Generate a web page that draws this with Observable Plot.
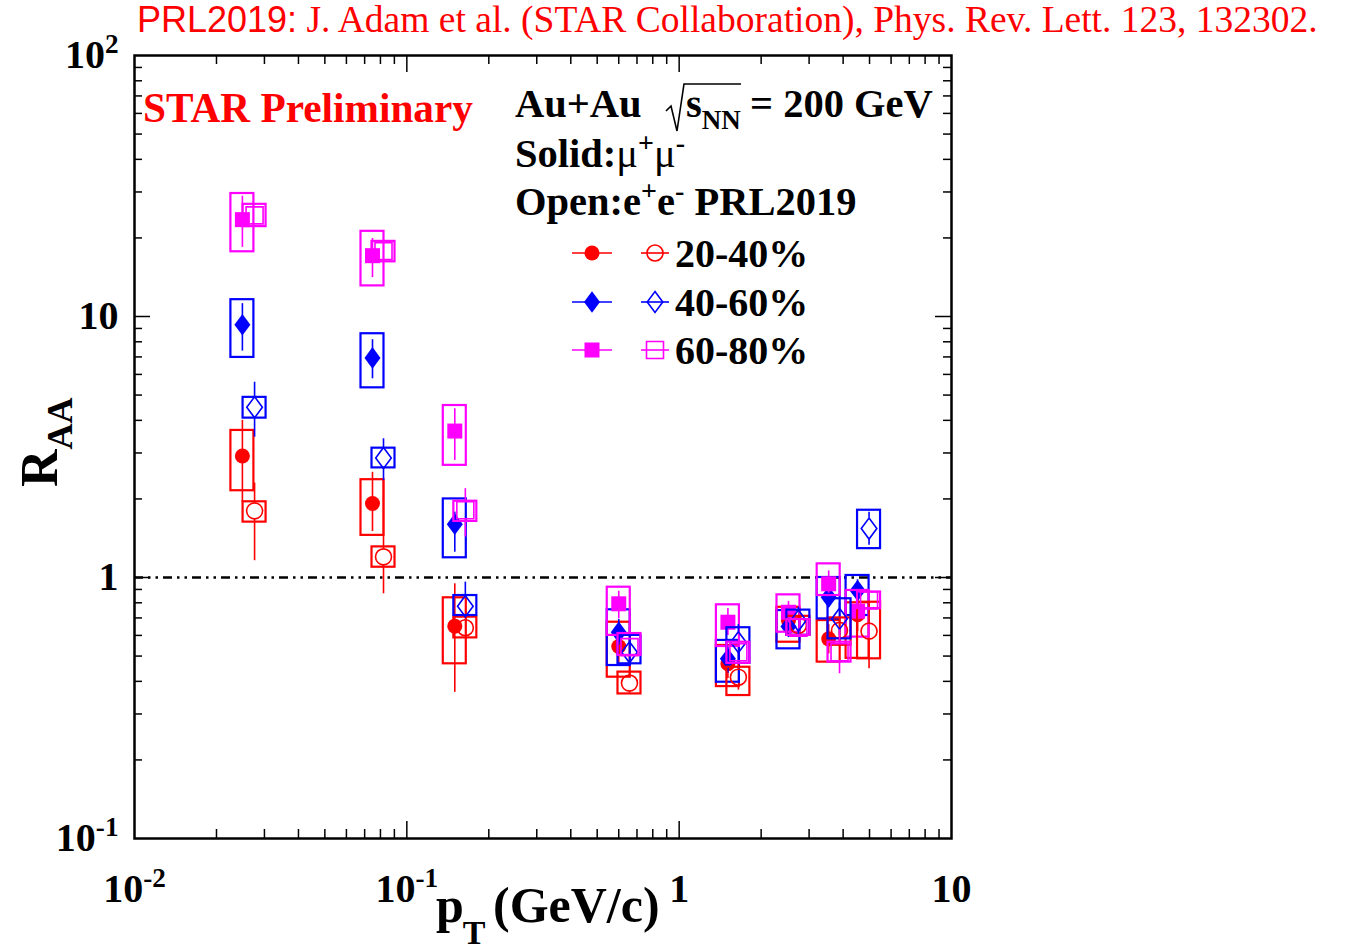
<!DOCTYPE html>
<html><head><meta charset="utf-8">
<script src="https://cdn.jsdelivr.net/npm/d3@7"></script>
<script src="https://cdn.jsdelivr.net/npm/@observablehq/plot@0.6"></script>
<style>
body{margin:0;background:#fff;}
#wrap{position:relative;width:1353px;height:951px;overflow:hidden;background:#fff;}
#wrap svg{position:absolute;left:0;top:0;}
</style></head><body><div id="wrap"></div>
<script>
// ---------- data ----------
const ptMuMu = [0.0249, 0.0748, 0.150, 0.600, 1.51, 2.52, 3.54, 4.52];
const ptEE   = [0.0276, 0.0821, 0.164, 0.657, 1.65, 2.74, 3.88, 4.98];

const rSolidVal    = [2.92, 1.92, 0.651, 0.544, 0.467, 0.684, 0.582, 0.72];
const rSolidSysLo  = [2.15, 1.45, 0.467, 0.415, 0.382, 0.565, 0.474, 0.49];
const rSolidSysHi  = [3.66, 2.37, 0.836, 0.674, 0.549, 0.769, 0.684, 0.80];
const rSolidStatLo = [1.94, 1.50, 0.363, 0.47, 0.41, 0.60, 0.51, 0.62];
const rSolidStatHi = [4.00, 2.53, 0.946, 0.62, 0.53, 0.77, 0.66, 0.83];

const bSolidVal    = [9.3, 6.94, 1.60, 0.617, 0.488, 0.649, 0.841, 0.892];
const bSolidSysLo  = [6.97, 5.33, 1.19, 0.46, 0.397, 0.533, 0.694, 0.715];
const bSolidSysHi  = [11.6, 8.59, 2.0, 0.752, 0.574, 0.747, 1.0, 1.018];
const bSolidStatLo = [7.37, 5.77, 1.25, 0.55, 0.43, 0.59, 0.77, 0.81];
const bSolidStatHi = [11.2, 8.15, 1.78, 0.69, 0.55, 0.71, 0.92, 0.98];

const mSolidVal    = [23.5, 17.1, 3.64, 0.793, 0.674, 0.736, 0.946, 0.743];
const mSolidSysLo  = [17.7, 13.1, 2.69, 0.60, 0.544, 0.617, 0.853, 0.591];
const mSolidSysHi  = [29.6, 21.2, 4.56, 0.918, 0.786, 0.858, 1.128, 0.892];
const mSolidStatLo = [18.4, 14.1, 2.81, 0.694, 0.60, 0.67, 0.87, 0.68];
const mSolidStatHi = [28.9, 19.9, 4.43, 0.886, 0.76, 0.81, 1.06, 0.81];

const rOpenVal    = [1.80, 1.20, 0.642, 0.394, 0.415, 0.655, 0.627, 0.623];
const rOpenSysLo  = [1.63, 1.095, 0.587, 0.358, 0.353, 0.60, 0.55, 0.488];
const rOpenSysHi  = [1.95, 1.31, 0.705, 0.434, 0.453, 0.71, 0.70, 0.804];
const rOpenStatLo = [1.16, 0.866, 0.60, 0.36, 0.37, 0.60, 0.56, 0.447];
const rOpenStatHi = [2.30, 2.35, 0.69, 0.43, 0.47, 0.71, 0.70, 0.80];

const bOpenVal    = [4.49, 2.87, 0.776, 0.517, 0.565, 0.684, 0.695, 1.54];
const bOpenSysLo  = [4.08, 2.63, 0.715, 0.467, 0.469, 0.60, 0.582, 1.29];
const bOpenSysHi  = [4.90, 3.13, 0.853, 0.60, 0.642, 0.75, 0.829, 1.81];
const bOpenStatLo = [3.45, 2.35, 0.70, 0.46, 0.47, 0.60, 0.60, 1.33];
const bOpenStatHi = [5.60, 3.40, 0.96, 0.58, 0.66, 0.77, 0.80, 1.78];

const mOpenVal    = [24.4, 17.8, 1.81, 0.541, 0.517, 0.642, 0.517, 0.816];
const mOpenSysLo  = [22.1, 16.2, 1.64, 0.503, 0.469, 0.60, 0.474, 0.76];
const mOpenSysHi  = [26.9, 19.4, 1.96, 0.61, 0.565, 0.69, 0.565, 0.88];
const mOpenStatLo = [22.5, 16.5, 1.43, 0.50, 0.48, 0.60, 0.428, 0.77];
const mOpenStatHi = [26.5, 19.2, 2.19, 0.58, 0.56, 0.69, 0.63, 0.86];

const centralities = ["20-40%", "40-60%", "60-80%"];
const xTickValues = [0.01, 0.1, 1, 10];
const xTickLabels = ["10^-2", "10^-1", "1", "10"];
const yTickValues = [0.1, 1, 10, 100];
const yTickLabels = ["10^-1", "1", "10", "10^2"];
const xMinorTicks = [0.02,0.03,0.04,0.05,0.06,0.07,0.08,0.09,0.2,0.3,0.4,0.5,0.6,0.7,0.8,0.9,2,3,4,5,6,7,8,9];
const yMinorTicks = [0.2,0.3,0.4,0.5,0.6,0.7,0.8,0.9,2,3,4,5,6,7,8,9,20,30,40,50,60,70,80,90];
const xMajorInner = [0.1, 1];
const yMajorInner = [1, 10];
const unityLine = [1];

// ---------- layout ----------
const W = 1353, H = 951, mL = 134, mR = 402, mT = 55, mB = 113;
const innerW = W - mL - mR, innerH = H - mT - mB;
const pxDec = innerH / 3;
const RED = "#ff0000", BLUE = "#0000ff", MAG = "#ff00ff";

const diamondSym = {draw(ctx, size){const r = Math.sqrt(size/Math.PI); const w = r, h = r*1.35;
  ctx.moveTo(0,-h); ctx.lineTo(w,0); ctx.lineTo(0,h); ctx.lineTo(-w,0); ctx.closePath();}};

const series = [
  {pt: ptMuMu, val: rSolidVal, sysLo: rSolidSysLo, sysHi: rSolidSysHi, statLo: rSolidStatLo, statHi: rSolidStatHi, color: RED, open: false, symbol: "circle", r: 7.5, half: 7.5},
  {pt: ptMuMu, val: bSolidVal, sysLo: bSolidSysLo, sysHi: bSolidSysHi, statLo: bSolidStatLo, statHi: bSolidStatHi, color: BLUE, open: false, symbol: diamondSym, r: 8, half: 10.8},
  {pt: ptMuMu, val: mSolidVal, sysLo: mSolidSysLo, sysHi: mSolidSysHi, statLo: mSolidStatLo, statHi: mSolidStatHi, color: MAG, open: false, symbol: "square", r: 15/Math.sqrt(Math.PI), half: 7.5},
  {pt: ptEE, val: rOpenVal, sysLo: rOpenSysLo, sysHi: rOpenSysHi, statLo: rOpenStatLo, statHi: rOpenStatHi, color: RED, open: true, symbol: "circle", r: 8, half: 8},
  {pt: ptEE, val: bOpenVal, sysLo: bOpenSysLo, sysHi: bOpenSysHi, statLo: bOpenStatLo, statHi: bOpenStatHi, color: BLUE, open: true, symbol: diamondSym, r: 7.8, half: 10.5},
  {pt: ptEE, val: mOpenVal, sysLo: mOpenSysLo, sysHi: mOpenSysHi, statLo: mOpenStatLo, statHi: mOpenStatHi, color: MAG, open: true, symbol: "square", r: 17/Math.sqrt(Math.PI), half: 8.5}
];

function rowsOf(s){
  return s.pt.map((p,i)=>({pt:p, val:s.val[i], sysLo:s.sysLo[i], sysHi:s.sysHi[i], statLo:s.statLo[i], statHi:s.statHi[i]}));
}

const marks = [];
// dash-dot unity line
marks.push(Plot.ruleY(unityLine, {stroke:"black", strokeWidth:2.6, strokeDasharray:"9 5 2.5 5 2.5 5"}));

for (const s of series) {
  const rows = rowsOf(s);
  marks.push(Plot.rect(rows, {x1:"pt", x2:"pt", y1:"sysLo", y2:"sysHi", insetLeft:-11.5, insetRight:-11.5,
    fill:"none", stroke:s.color, strokeWidth:2.2}));
  if (!s.open) {
    marks.push(Plot.ruleX(rows, {x:"pt", y1:"statHi", y2:"statLo", stroke:s.color, strokeWidth:1.6}));
    marks.push(Plot.dot(rows, {x:"pt", y:"val", symbol:()=>s.symbol, r:s.r, fill:s.color, stroke:"none"}));
  } else {
    const lim = (s.half + 1) / pxDec;
    marks.push(Plot.ruleX(rows.filter(d => Math.log10(d.statHi/d.val) > lim),
      {x:"pt", y1:"statHi", y2:"val", insetBottom:s.half, stroke:s.color, strokeWidth:1.6}));
    marks.push(Plot.ruleX(rows.filter(d => Math.log10(d.val/d.statLo) > lim),
      {x:"pt", y1:"val", y2:"statLo", insetTop:s.half, stroke:s.color, strokeWidth:1.6}));
    marks.push(Plot.dot(rows, {x:"pt", y:"val", symbol:()=>s.symbol, r:s.r, fill:"none", stroke:s.color, strokeWidth:1.6}));
  }
}

// frame ticks (inward, on all four sides)
const majT = 17, minT = 9;
marks.push(
  Plot.ruleX(xMajorInner, {insetTop: innerH - majT, strokeWidth:1.5}),
  Plot.ruleX(xMajorInner, {insetBottom: innerH - majT, strokeWidth:1.5}),
  Plot.ruleX(xMinorTicks, {insetTop: innerH - minT, strokeWidth:1.5}),
  Plot.ruleX(xMinorTicks, {insetBottom: innerH - minT, strokeWidth:1.5}),
  Plot.ruleY(yMajorInner, {insetRight: innerW - 16, strokeWidth:1.5}),
  Plot.ruleY(yMajorInner, {insetLeft: innerW - 16, strokeWidth:1.5}),
  Plot.ruleY(yMinorTicks, {insetRight: innerW - 8, strokeWidth:1.5}),
  Plot.ruleY(yMinorTicks, {insetLeft: innerW - 8, strokeWidth:1.5}),
  Plot.frame({stroke:"black", strokeWidth:2.5}),
  Plot.axisX(xTickValues, {tickSize:0, tickPadding:35, label:null, tickFormat: d => xTickLabels[xTickValues.indexOf(d)]}),
  Plot.axisY(yTickValues, {tickSize:0, tickPadding:16, label:null, tickFormat: d => yTickLabels[yTickValues.indexOf(d)]})
);

const chart = Plot.plot({
  width: W, height: H,
  marginLeft: mL, marginRight: mR, marginTop: mT, marginBottom: mB,
  x: {type:"log", domain:[0.01, 10]},
  y: {type:"log", domain:[0.1, 100]},
  style: "font-family:'Liberation Serif',serif;font-size:40px;font-weight:bold;color:black;background:white;",
  marks
});

// superscripts in tick labels
d3.select(chart).selectAll('g[aria-label$="tick label"] text').each(function(){
  const t = d3.select(this).text();
  if (t.includes("^")) {
    const [b, e] = t.split("^");
    const sel = d3.select(this);
    sel.text(b);
    sel.append("tspan").attr("dy","-0.55em").attr("font-size","0.68em").text(e);
  }
});

const wrap = document.getElementById("wrap");
wrap.appendChild(chart);

// ---------- annotations ----------
const ov = d3.create("svg").attr("width", W).attr("height", H)
  .style("pointer-events","none")
  .attr("font-family","'Liberation Serif',serif");

// top reference line
const t0 = ov.append("text").attr("x",137).attr("y",32).attr("fill",RED);
t0.append("tspan").attr("font-family","'Liberation Sans',sans-serif").attr("font-size",36).text("PRL2019:");
t0.append("tspan").attr("font-size",37.5).text(" J. Adam et al. (STAR Collaboration), Phys. Rev. Lett. 123, 132302.");

// STAR Preliminary
ov.append("text").attr("x",143).attr("y",122).attr("font-size",41.3).attr("font-weight","bold").attr("fill",RED).text("STAR Preliminary");

// Au+Au sqrt(sNN) = 200 GeV
const g1 = ov.append("g").attr("font-weight","bold").attr("fill","black");
g1.append("text").attr("x",515).attr("y",117).attr("font-size",40.5).text("Au+Au");
g1.append("path").attr("d","M666,111 L671,106 L677,131 L684,84 L741,84").attr("fill","none").attr("stroke","black").attr("stroke-width",1.6);
const sq = g1.append("text").attr("x",686).attr("y",117).attr("font-size",40.5);
sq.append("tspan").text("s");
sq.append("tspan").attr("dy",12).attr("font-size",27).text("NN");
g1.append("text").attr("x",750).attr("y",117).attr("font-size",40.5).text("= 200 GeV");

const t2 = g1.append("text").attr("x",515).attr("y",167).attr("font-size",40.5);
t2.append("tspan").text("Solid:");
t2.append("tspan").attr("font-weight","normal").text("μ");
t2.append("tspan").attr("dy",-15).attr("font-size",28).text("+");
t2.append("tspan").attr("dy",15).attr("font-weight","normal").text("μ");
t2.append("tspan").attr("dy",-15).attr("font-size",28).text("-");

const t3 = g1.append("text").attr("x",515).attr("y",215).attr("font-size",40.5);
t3.append("tspan").text("Open:e");
t3.append("tspan").attr("dy",-15).attr("font-size",28).text("+");
t3.append("tspan").attr("dy",15).text("e");
t3.append("tspan").attr("dy",-15).attr("font-size",28).text("-");
t3.append("tspan").attr("dy",15).text(" PRL2019");

// legend
const legRows = [
  {label: centralities[0], color: RED, solid: series[0], open: series[3], y: 253},
  {label: centralities[1], color: BLUE, solid: series[1], open: series[4], y: 302},
  {label: centralities[2], color: MAG, solid: series[2], open: series[5], y: 350}
];
function symPath(s){
  const sym = s.symbol === "circle" ? d3.symbolCircle : s.symbol === "square" ? d3.symbolSquare : s.symbol;
  return d3.symbol(sym, Math.PI * s.r * s.r)();
}
for (const L of legRows) {
  const g = ov.append("g");
  g.append("line").attr("x1",572).attr("x2",612).attr("y1",L.y).attr("y2",L.y).attr("stroke",L.color).attr("stroke-width",1.6);
  g.append("path").attr("d",symPath(L.solid)).attr("transform",`translate(592,${L.y})`).attr("fill",L.color);
  g.append("line").attr("x1",641).attr("x2",669).attr("y1",L.y).attr("y2",L.y).attr("stroke",L.color).attr("stroke-width",1.6);
  g.append("path").attr("d",symPath(L.open)).attr("transform",`translate(655,${L.y})`).attr("fill","none").attr("stroke",L.color).attr("stroke-width",1.6);
  g.append("text").attr("x",675).attr("y",L.y+14).attr("font-size",40).attr("font-weight","bold").text(L.label);
}

// axis titles
const xt = ov.append("text").attr("x",436).attr("y",922).attr("font-size",50).attr("font-weight","bold");
xt.append("tspan").text("p");
xt.append("tspan").attr("dy",22).attr("dx",-1).attr("font-size",34).text("T");
ov.append("text").attr("x",493).attr("y",922).attr("font-size",50).attr("font-weight","bold").text("(GeV/c)");

const yt = ov.append("text").attr("transform","translate(57,487) rotate(-90)").attr("font-size",52).attr("font-weight","bold");
yt.append("tspan").text("R");
yt.append("tspan").attr("dy",15).attr("font-size",36).text("AA");

wrap.appendChild(ov.node());
</script>
</body></html>
